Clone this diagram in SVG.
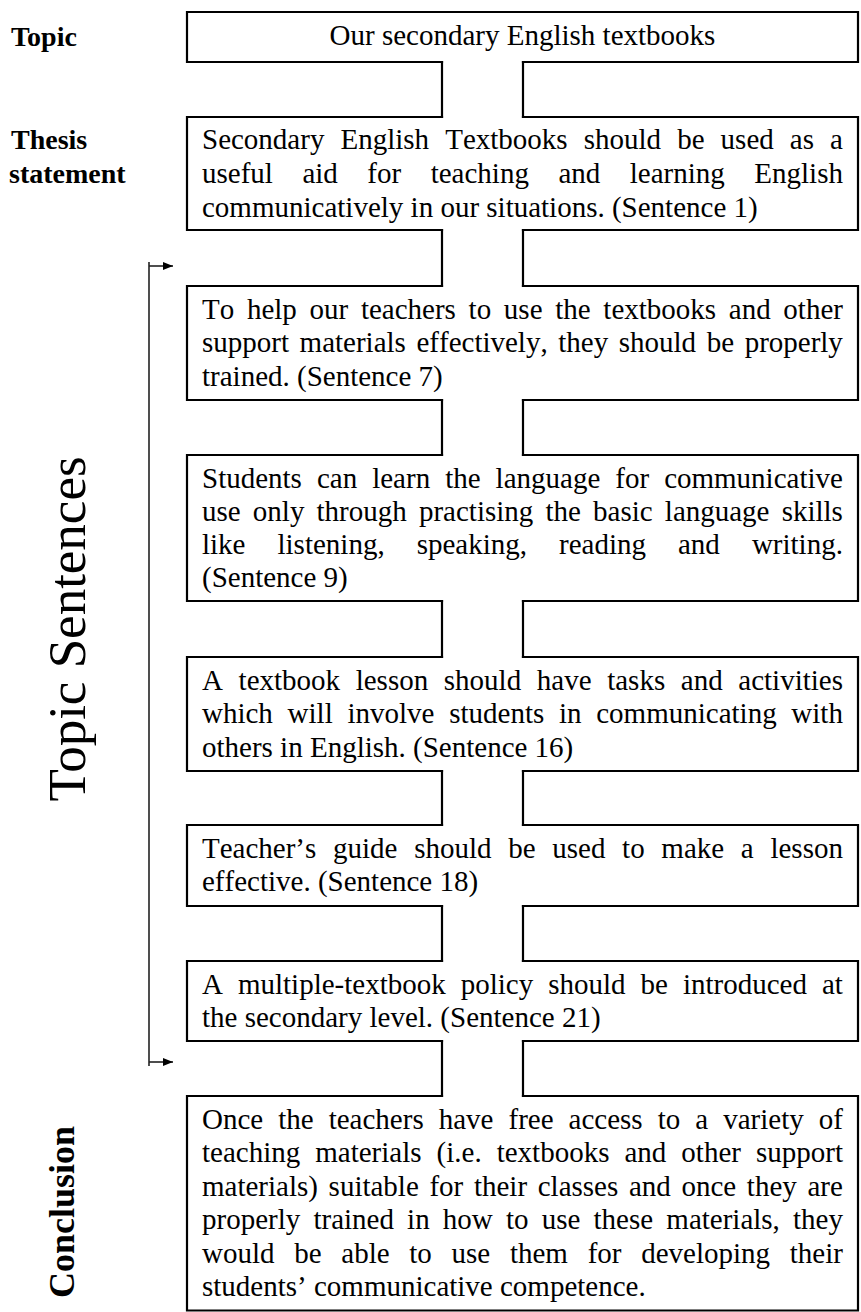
<svg xmlns="http://www.w3.org/2000/svg" width="861" height="1312" viewBox="0 0 861 1312">
<style>
.box{fill:none;stroke:#000;stroke-width:2.2;stroke-linecap:square;stroke-linejoin:miter}
.pipe{fill:none;stroke:#000;stroke-width:2.2;stroke-linecap:square}
.t{font-family:"Liberation Serif","Times New Roman",serif;font-size:29px;fill:#000;font-kerning:none;font-variant-ligatures:none}
.lbl{font-family:"Liberation Serif","Times New Roman",serif;font-weight:bold;font-size:28px;fill:#000}
.br{fill:none;stroke:#222;stroke-width:1.6}
</style>
<defs>
<marker id="ah" viewBox="0 0 10 8" refX="10" refY="4" markerWidth="10" markerHeight="8" markerUnits="userSpaceOnUse" orient="auto">
<path d="M0,0 L10,4 L0,8 Z" fill="#000"/>
</marker>
</defs>
<rect x="0" y="0" width="861" height="1312" fill="#fff"/>

<g id="labels">
<text class="lbl" x="11" y="46">Topic</text>
<text class="lbl" x="11" y="149">Thesis</text>
<text class="lbl" x="9" y="183">statement</text>
<text x="85" y="629" transform="rotate(-90 85 629)" text-anchor="middle" style="font-family:'Liberation Serif','Times New Roman',serif;font-size:53px;fill:#000">Topic Sentences</text>
<text class="lbl" x="74" y="1212" transform="rotate(-90 74 1212)" text-anchor="middle" style="font-size:36px">Conclusion</text>
</g>

<g id="connectors">
<path class="pipe" d="M442,62 V117 M523,62 V117"/>
<path class="pipe" d="M442,230 V286 M523,230 V286"/>
<path class="pipe" d="M442,400 V455 M523,400 V455"/>
<path class="pipe" d="M442,601 V657 M523,601 V657"/>
<path class="pipe" d="M442,771 V825 M523,771 V825"/>
<path class="pipe" d="M442,906 V961 M523,906 V961"/>
<path class="pipe" d="M442,1041 V1096 M523,1041 V1096"/>
<path class="br" d="M149,262 V1066"/>
<path class="br" d="M149,266 H173" marker-end="url(#ah)"/>
<path class="br" d="M149,1062 H173" marker-end="url(#ah)"/>
</g>

<g id="topic">
<path class="box" d="M442,62 H187 V12 H858 V62 H523"/>
<text class="t" x="522.5" y="45" text-anchor="middle">Our secondary English textbooks</text>
</g>

<g id="thesis">
<path class="box" d="M442,117 H187 V230 H442 M523,230 H858 V117 H523"/>
<text class="t" x="202" y="148.5" style="word-spacing:8.84px">Secondary English Textbooks should be used as a</text>
<text class="t" x="202" y="182.5" style="word-spacing:22.27px">useful aid for teaching and learning English</text>
<text class="t" x="202" y="216.5">communicatively in our situations. (Sentence 1)</text>
</g>

<g id="topic-sentence-7">
<path class="box" d="M442,286 H187 V400 H442 M523,400 H858 V286 H523"/>
<text class="t" x="202" y="318.5" style="word-spacing:5.45px">To help our teachers to use the textbooks and other</text>
<text class="t" x="202" y="352" style="word-spacing:3.33px">support materials effectively, they should be properly</text>
<text class="t" x="202" y="385.5">trained. (Sentence 7)</text>
</g>

<g id="topic-sentence-9">
<path class="box" d="M442,455 H187 V601 H442 M523,601 H858 V455 H523"/>
<text class="t" x="202" y="487.5" style="word-spacing:7.77px">Students can learn the language for communicative</text>
<text class="t" x="202" y="520.5" style="word-spacing:4.92px">use only through practising the basic language skills</text>
<text class="t" x="202" y="553.5" style="word-spacing:24.77px">like listening, speaking, reading and writing.</text>
<text class="t" x="202" y="586.5">(Sentence 9)</text>
</g>

<g id="topic-sentence-16">
<path class="box" d="M442,657 H187 V771 H442 M523,771 H858 V657 H523"/>
<text class="t" x="202" y="689.5" style="word-spacing:8.38px">A textbook lesson should have tasks and activities</text>
<text class="t" x="202" y="723" style="word-spacing:7.48px">which will involve students in communicating with</text>
<text class="t" x="202" y="756.5">others in English. (Sentence 16)</text>
</g>

<g id="topic-sentence-18">
<path class="box" d="M442,825 H187 V906 H442 M523,906 H858 V825 H523"/>
<text class="t" x="202" y="857.5" style="word-spacing:9.45px">Teacher’s guide should be used to make a lesson</text>
<text class="t" x="202" y="891">effective. (Sentence 18)</text>
</g>

<g id="topic-sentence-21">
<path class="box" d="M442,961 H187 V1041 H442 M523,1041 H858 V961 H523"/>
<text class="t" x="202" y="993.5" style="word-spacing:7.75px">A multiple-textbook policy should be introduced at</text>
<text class="t" x="202" y="1027">the secondary level. (Sentence 21)</text>
</g>

<g id="conclusion">
<path class="box" d="M442,1096 H187 V1310.5 H858 V1096 H523"/>
<text class="t" x="202" y="1128.5" style="word-spacing:7.79px">Once the teachers have free access to a variety of</text>
<text class="t" x="202" y="1162" style="word-spacing:7.77px">teaching materials (i.e. textbooks and other support</text>
<text class="t" x="202" y="1195.5" style="word-spacing:3.41px">materials) suitable for their classes and once they are</text>
<text class="t" x="202" y="1229" style="word-spacing:5.93px">properly trained in how to use these materials, they</text>
<text class="t" x="202" y="1262.5" style="word-spacing:12.46px">would be able to use them for developing their</text>
<text class="t" x="202" y="1296">students’ communicative competence.</text>
</g>
</svg>
